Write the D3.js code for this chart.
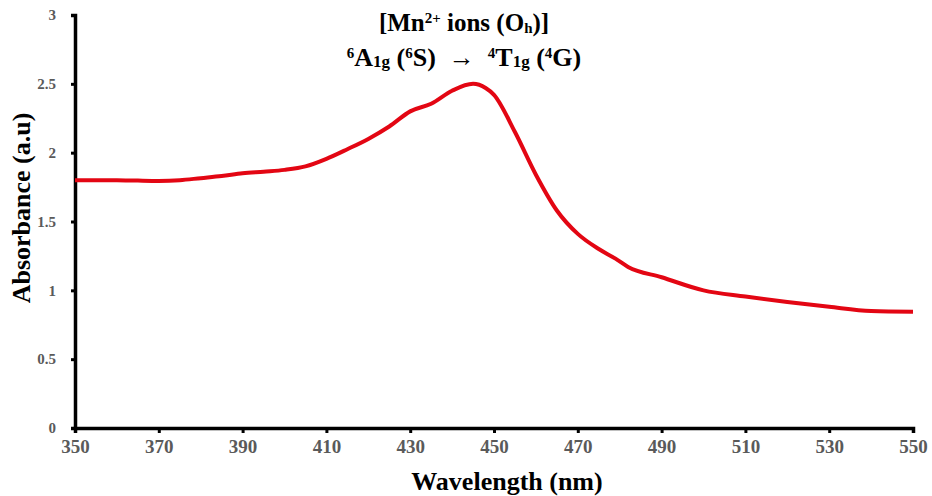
<!DOCTYPE html>
<html>
<head>
<meta charset="utf-8">
<script src="https://cdn.jsdelivr.net/npm/d3@7"></script>
<style>
  body { margin: 0; background: white; }
  text { font-family: "Liberation Serif", "Times New Roman", serif; font-weight: bold; }
</style>
</head>
<body>
<div class="chart"></div>
<script>
// wavelength (nm) and absorbance
var wavelength = [350, 355, 360, 365, 370, 375, 380, 385, 390, 395, 400, 405, 410, 415, 420, 425,
  430, 435, 440, 445, 448, 450, 455, 460, 465, 470, 475, 479, 482, 490, 500, 510, 520, 530, 540, 550];
var absorbance = [1.80, 1.80, 1.80, 1.797, 1.795, 1.80, 1.815, 1.83, 1.85, 1.862, 1.875, 1.90, 1.955, 2.025, 2.10, 2.19,
  2.30, 2.355, 2.45, 2.50, 2.47, 2.42, 2.15, 1.84, 1.58, 1.41, 1.30, 1.23, 1.17, 1.095, 1.00, 0.955, 0.915, 0.88, 0.85, 0.845];
var xTicks = [350, 370, 390, 410, 430, 450, 470, 490, 510, 530, 550];
var yTicks = [0, 0.5, 1, 1.5, 2, 2.5, 3];

const W = 932, H = 496;
const x = d3.scaleLinear().domain([350, 550]).range([75, 913]);
const y = d3.scaleLinear().domain([0, 3]).range([428, 15]);

const svg = d3.select('.chart')
    .append('svg')
        .attr('width', W)
        .attr('height', H)
        .style('background', 'white');

// axes
const xAxis = svg.append('g')
    .attr('transform', 'translate(0,' + y(0) + ')')
    .call(d3.axisBottom(x).tickValues(xTicks).tickSize(5).tickPadding(6).tickFormat(d3.format('d')));
xAxis.select('.domain').attr('stroke', '#000').attr('stroke-width', 3.5);
xAxis.selectAll('.tick line').attr('stroke', '#000').attr('stroke-width', 3);
xAxis.selectAll('.tick text')
    .attr('fill', '#5a5a5a')
    .style('font-size', '19px')
    .attr('dy', '0.75em');

const yAxis = svg.append('g')
    .attr('transform', 'translate(' + x(350) + ',0)')
    .call(d3.axisLeft(y).tickValues(yTicks).tickSize(4).tickPadding(15).tickFormat(d => d));
yAxis.select('.domain').attr('stroke', '#000').attr('stroke-width', 3.5);
yAxis.selectAll('.tick line').attr('stroke', '#000').attr('stroke-width', 3);
yAxis.selectAll('.tick text')
    .attr('fill', '#5a5a5a')
    .style('font-size', '15px');

// the curve
const pts = wavelength.map((w, i) => [w, absorbance[i]]);
svg.append('path')
    .datum(pts)
    .attr('fill', 'none')
    .attr('stroke', '#e30613')
    .attr('stroke-width', 4)
    .attr('stroke-linejoin', 'round')
    .attr('d', d3.line().x(d => x(d[0])).y(d => y(d[1])).curve(d3.curveMonotoneX));

// axis titles
svg.append('text')
    .attr('x', 507)
    .attr('y', 490)
    .attr('text-anchor', 'middle')
    .style('font-size', '26px')
    .text('Wavelength (nm)');

svg.append('text')
    .attr('transform', 'translate(30,208) rotate(-90)')
    .attr('text-anchor', 'middle')
    .style('font-size', '26px')
    .text('Absorbance (a.u)');

// annotation
const t1 = svg.append('text')
    .attr('x', 464)
    .attr('y', 31)
    .attr('text-anchor', 'middle')
    .style('font-size', '25px');
t1.append('tspan').text('[Mn');
t1.append('tspan').text('2+').style('font-size', '15px').attr('baseline-shift', '55%');
t1.append('tspan').text(' ions (O');
t1.append('tspan').text('h').style('font-size', '15px').attr('baseline-shift', '-15%');
t1.append('tspan').text(')]');

const t2 = svg.append('text')
    .attr('x', 464)
    .attr('y', 66)
    .attr('text-anchor', 'middle')
    .style('font-size', '26px')
    .style('white-space', 'pre');
var parts = [
  ['6', 'sup'], ['A', ''], ['1g', 'sub'], [' (', ''], ['6', 'sup'], ['S)  \u2192  ', ''],
  ['4', 'sup'], ['T', ''], ['1g', 'sub'], [' (', ''], ['4', 'sup'], ['G)', '']
];
parts.forEach(p => {
  const s = t2.append('tspan').text(p[0]);
  if (p[1] === 'sup') s.style('font-size', '15px').attr('baseline-shift', '55%');
  if (p[1] === 'sub') s.style('font-size', '17px').attr('baseline-shift', '-5%');
});
</script>
</body>
</html>
